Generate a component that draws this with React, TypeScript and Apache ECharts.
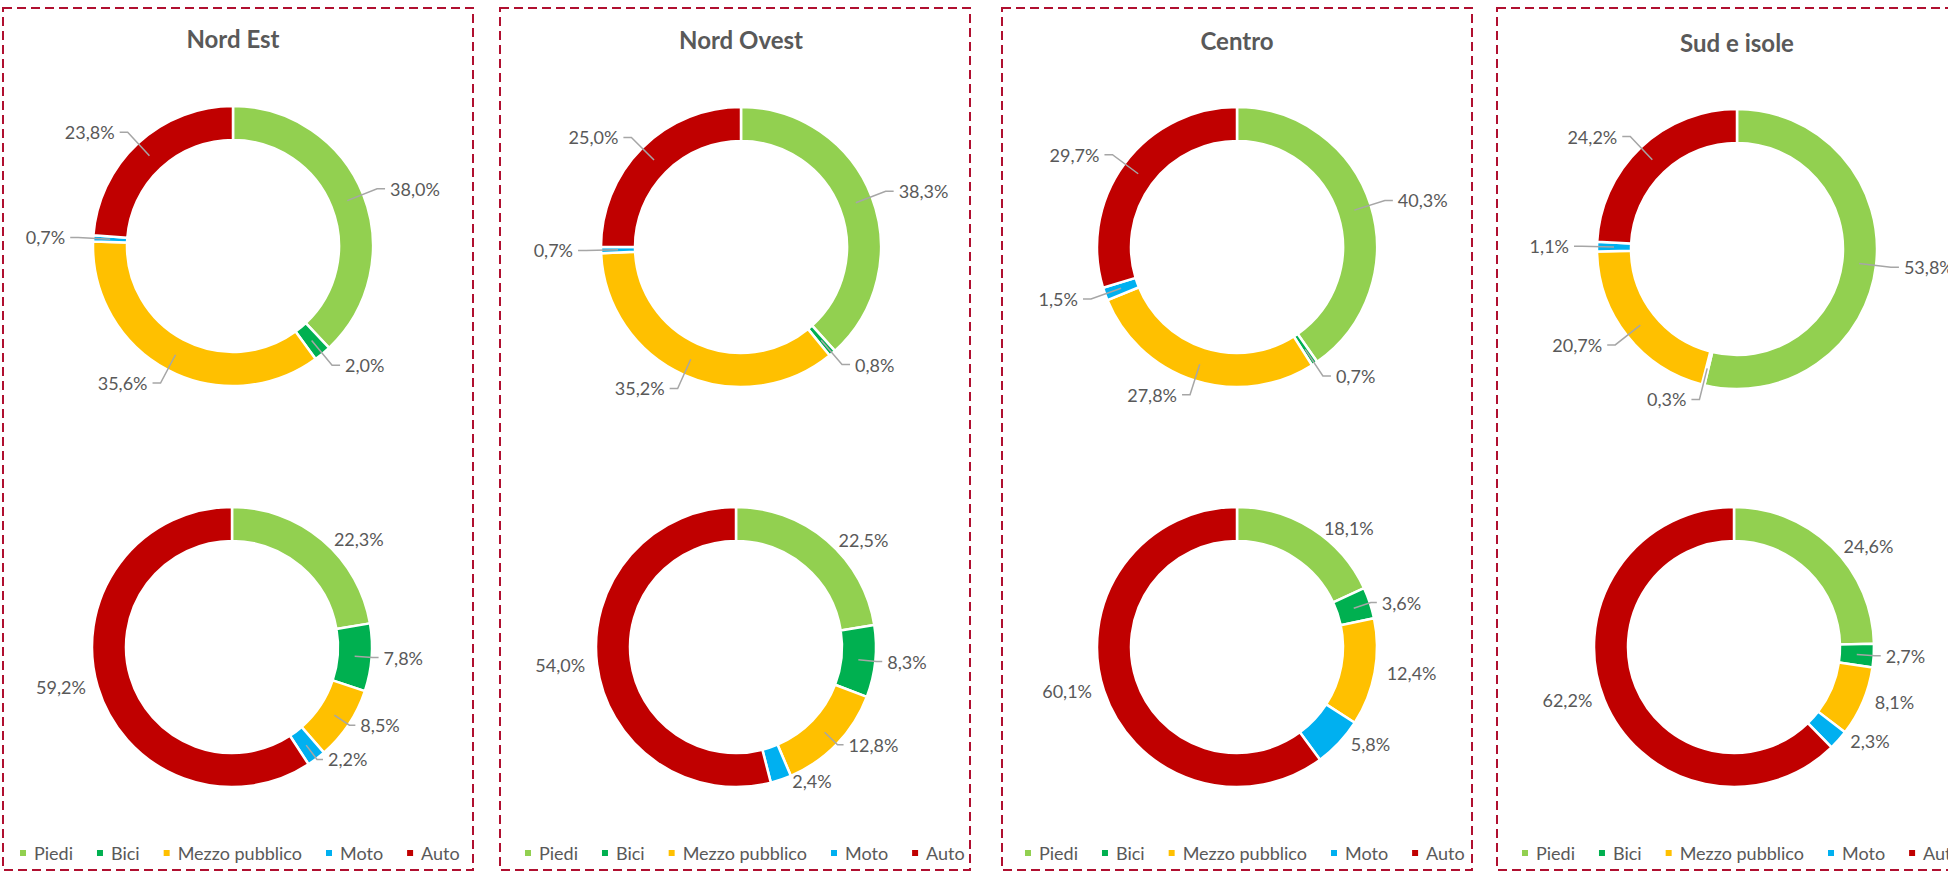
import React, { useEffect, useRef } from 'react';
import * as echarts from 'echarts';

// ---- data ----
const categories = ['Piedi', 'Bici', 'Mezzo pubblico', 'Moto', 'Auto'];
const regions = ['Nord Est', 'Nord Ovest', 'Centro', 'Sud e isole'];

const topNordEst = [38.0, 2.0, 35.6, 0.7, 23.8];
const topNordOvest = [38.3, 0.8, 35.2, 0.7, 25.0];
const topCentro = [40.3, 0.7, 27.8, 1.5, 29.7];
const topSud = [53.8, 0.3, 20.7, 1.1, 24.2];

const bottomNordEst = [22.3, 7.8, 8.5, 2.2, 59.2];
const bottomNordOvest = [22.5, 8.3, 12.8, 2.4, 54.0];
const bottomCentro = [18.1, 3.6, 12.4, 5.8, 60.1];
const bottomSud = [24.6, 2.7, 8.1, 2.3, 62.2];

const topValues = [topNordEst, topNordOvest, topCentro, topSud];
const bottomValues = [bottomNordEst, bottomNordOvest, bottomCentro, bottomSud];

// ---- styles / layout ----
const colors = ['#92D050', '#00B050', '#FFC000', '#00B0F0', '#C00000'];
const bottomLeaders = [
  [false, true, true, true, false],
  [false, true, true, false, false],
  [false, true, false, false, false],
  [false, true, false, false, false],
];
const panelLeft = [2, 499, 1001, 1496];
const topCenter = [
  [231, 246],
  [242, 247],
  [236, 247],
  [241, 249],
];
const bottomCenter = [
  [230, 647],
  [237, 647],
  [236, 647],
  [238, 647],
];
const titleY = [38, 39, 40, 42];
const legendLeft = [16, 24, 22, 24];
const PANEL_W = 472;
const PANEL_H = 872;
const FONT = 'Lato, "Open Sans", sans-serif';
const TEXT = '#595959';

const fmt = (v: number) => v.toFixed(1).replace('.', ',') + '%';

function ringSeries(values: number[], center: number[]) {
  return {
    type: 'pie',
    radius: [106, 140],
    center,
    startAngle: 90,
    clockwise: true,
    silent: true,
    z: 1,
    label: { show: false },
    labelLine: { show: false },
    itemStyle: { borderColor: '#ffffff', borderWidth: 2.5 },
    emphasis: { disabled: true },
    data: categories.map((name, i) => ({
      name,
      value: values[i],
      itemStyle: { color: colors[i] },
    })),
  };
}

function labelSeries(values: number[], center: number[], top: boolean, leaders: boolean[] | null) {
  return {
    type: 'pie',
    radius: [0, 123],
    center,
    startAngle: 90,
    clockwise: true,
    silent: true,
    z: 3,
    avoidLabelOverlap: true,
    itemStyle: { color: 'rgba(0,0,0,0)', borderWidth: 0 },
    emphasis: { disabled: true },
    label: {
      show: true,
      position: 'outside',
      formatter: (p: any) => fmt(p.value),
      color: TEXT,
      fontSize: 18,
      fontFamily: FONT,
      distanceToLabelLine: 5,
    },
    labelLine: {
      show: true,
      length: top ? 32 : 18,
      length2: top ? 8 : 6,
      lineStyle: { color: '#A6A6A6', width: 1.5 },
    },
    data: categories.map((name, i) => ({
      name,
      value: values[i],
      itemStyle: { color: 'rgba(0,0,0,0)' },
      labelLine: leaders ? { show: leaders[i] } : { show: true },
    })),
  };
}

function buildOption(idx: number) {
  return {
    animation: false,
    title: {
      text: regions[idx],
      left: topCenter[idx][0],
      top: titleY[idx],
      textAlign: 'center',
      textVerticalAlign: 'middle',
      padding: 0,
      textStyle: { fontFamily: FONT, fontSize: 24, fontWeight: 'bold', color: TEXT },
    },
    legend: {
      data: categories,
      left: legendLeft[idx],
      top: 844,
      padding: 0,
      icon: 'rect',
      itemWidth: 8,
      itemHeight: 8,
      itemGap: 22,
      selectedMode: false,
      textStyle: { fontFamily: FONT, fontSize: 18, color: TEXT, padding: [0, 0, 0, 2] },
    },
    graphic: [
      {
        type: 'rect',
        silent: true,
        z: 0,
        shape: { x: 1, y: 8, width: 470, height: 862 },
        style: { fill: 'rgba(0,0,0,0)', stroke: '#B01030', lineWidth: 2, lineDash: [9, 5] },
      },
    ],
    series: [
      ringSeries(topValues[idx], topCenter[idx]),
      ringSeries(bottomValues[idx], bottomCenter[idx]),
      labelSeries(topValues[idx], topCenter[idx], true, null),
      labelSeries(bottomValues[idx], bottomCenter[idx], false, bottomLeaders[idx]),
    ],
  };
}

function Panel({ idx }: { idx: number }) {
  const ref = useRef<HTMLDivElement>(null);
  useEffect(() => {
    if (!ref.current) return;
    const chart = echarts.init(ref.current, null, { renderer: 'svg' });
    chart.setOption(buildOption(idx) as any);
    return () => chart.dispose();
  }, [idx]);
  return (
    <div
      ref={ref}
      style={{ position: 'absolute', left: panelLeft[idx], top: 0, width: PANEL_W, height: PANEL_H }}
    />
  );
}

export default function App() {
  useEffect(() => {
    document.body.style.margin = '0';
    document.body.style.overflow = 'hidden';
  }, []);
  return (
    <div style={{ position: 'relative', width: 1948, height: 872, overflow: 'hidden', background: '#ffffff' }}>
      {regions.map((_, i) => (
        <Panel key={i} idx={i} />
      ))}
    </div>
  );
}
